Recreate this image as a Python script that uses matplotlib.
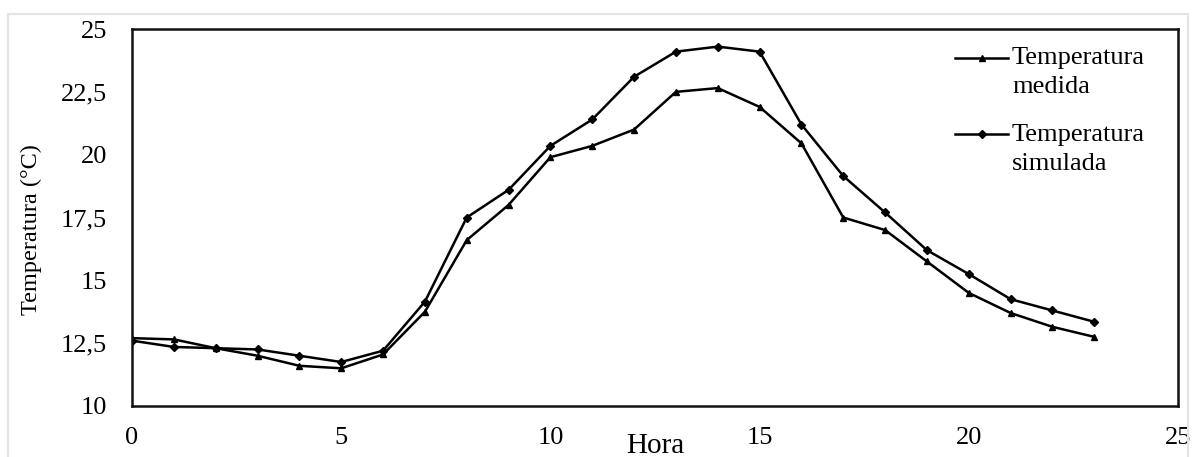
import matplotlib.pyplot as plt
import matplotlib.patches as patches
from matplotlib.offsetbox import HPacker

# ---------------------------------------------------------------------------
# data
# ---------------------------------------------------------------------------
hora = list(range(24))
temp_medida = [12.7, 12.65, 12.3, 12.0, 11.6, 11.5, 12.05, 13.75, 16.6, 18.0,
               19.9, 20.35, 21.0, 22.5, 22.65, 21.9, 20.45, 17.5, 17.0, 15.75,
               14.5, 13.7, 13.15, 12.75]
temp_simulada = [12.6, 12.35, 12.3, 12.25, 12.0, 11.75, 12.2, 14.15, 17.5, 18.6,
                 20.35, 21.4, 23.1, 24.1, 24.3, 24.1, 21.2, 19.15, 17.7, 16.2,
                 15.25, 14.25, 13.8, 13.35]
x_ticks = [0, 5, 10, 15, 20, 25]
y_ticks = [10, 12.5, 15, 17.5, 20, 22.5, 25]
y_tick_labels = ["10", "12,5", "15", "17,5", "20", "22,5", "25"]
series_labels = ["Temperatura\nmedida", "Temperatura\nsimulada"]

plt.rcParams['font.family'] = ['Liberation Serif', 'DejaVu Serif']

fig = plt.figure(figsize=(11.97, 4.57), dpi=100)
ax = fig.add_axes([0.1103, 0.1116, 0.8738, 0.8249])

# light grey outer frame
fig.patches.append(patches.Rectangle((8 / 1197, -0.05), 1180 / 1197, 1.02,
                                     transform=fig.transFigure, fill=False,
                                     edgecolor='#e4e4e4', linewidth=1.5))

ax.plot(hora, temp_medida, color='black', linewidth=1.8, marker='^',
        markersize=4, label=series_labels[0])
ax.plot(hora, temp_simulada, color='black', linewidth=1.8, marker='D',
        markersize=4.5, label=series_labels[1])

ax.set_xlim(0, 25)
ax.set_ylim(10, 25)
ax.set_xticks(x_ticks)
ax.set_yticks(y_ticks)
ax.set_yticklabels(y_tick_labels)
ax.tick_params(axis='both', length=0, labelsize=19)
ax.tick_params(axis='x', pad=15)
ax.tick_params(axis='y', pad=18)
for s in ax.spines.values():
    s.set_linewidth(1.8)
    s.set_color('#111111')

ax.set_ylabel("Temperatura (°C)", fontsize=17.5)
ax.yaxis.set_label_coords(-0.086, 0.467)
ax.set_xlabel("Hora", fontsize=21)
ax.xaxis.set_label_coords(0.5, -0.124)
ax.xaxis.label.set_va('baseline')

leg = ax.legend(loc='upper left', bbox_to_anchor=(0.787, 0.951),
                frameon=False, borderpad=0, borderaxespad=0,
                handlelength=2.0, handleheight=0.9, handletextpad=0.15,
                labelspacing=1.0, prop={'size': 19})
for t in leg.get_texts():
    t.set_linespacing(1.38)
# handle next to the first line of each label
for box in leg.findobj(HPacker):
    box.align = 'top'

fig.savefig('out.png', dpi=100)
